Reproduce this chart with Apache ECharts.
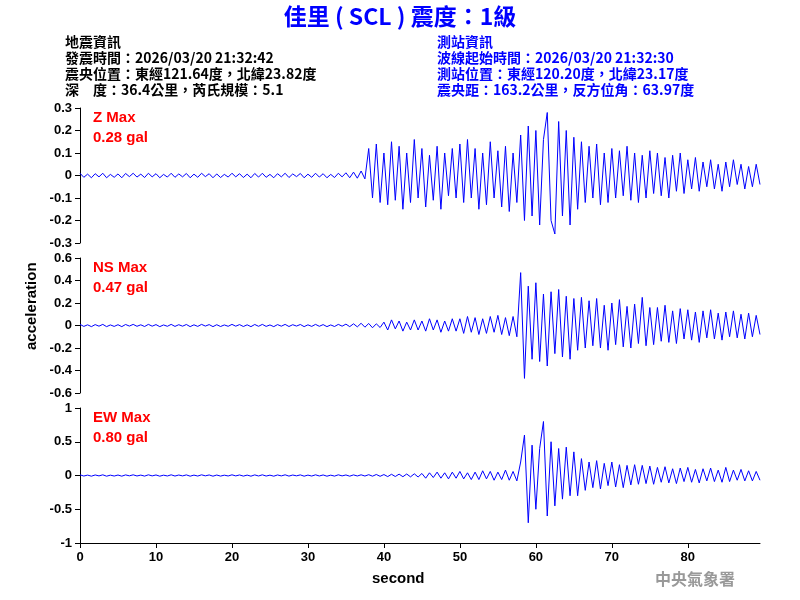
<!DOCTYPE html>
<html><head><meta charset="utf-8">
<script src="https://cdn.jsdelivr.net/npm/echarts@6/dist/echarts.min.js"></script>
<style>html,body{margin:0;padding:0;background:#fff}#c{width:800px;height:600px}</style>
</head><body><div id="c"></div>
<script>
const dt = 0.5; // sample interval in seconds
const zQuiet = [0.01,-0.008,0.006,-0.01,0.008,-0.006,0.01,-0.01,0.005,-0.008,
0.007,-0.01,0.009,-0.005,0.01,-0.007,0.006,-0.009,0.01,-0.006,
0.008,-0.01,0.005,-0.007,0.01,-0.008,0.007,-0.006,0.009,-0.01,
0.006,-0.008,0.01,-0.005,0.008,-0.01,0.007,-0.009,0.005,-0.007,
0.01,-0.006,0.008,-0.009,0.006,-0.01,0.009,-0.007,0.01,-0.008,
0.005,-0.01,0.008,-0.006,0.01,-0.009,0.007,-0.005,0.009,-0.01,
0.006,-0.008,0.01,-0.007,0.008,-0.01,0.005,-0.009,0.01,-0.006,
0.012,-0.01,0.015,-0.012,0.02,-0.015];
const zActive = [0.12,-0.1,0.14,-0.12,0.1,-0.13,0.15,-0.11,
0.13,-0.15,0.1,-0.12,0.16,-0.1,0.12,-0.14,0.09,-0.11,0.13,-0.15,0.1,-0.09,0.12,-0.1,
0.14,-0.12,0.16,-0.1,0.12,-0.15,0.1,-0.13,0.15,-0.1,0.11,-0.14,0.13,-0.16,0.1,-0.12,
0.18,-0.2,0.22,-0.18,0.2,-0.22,0.16,0.28,-0.2,-0.26,0.24,-0.18,0.2,-0.22,0.17,-0.15,
0.15,-0.12,0.13,-0.1,0.14,-0.13,0.1,-0.12,0.12,-0.1,0.11,-0.09,0.13,-0.11,0.1,-0.12,0.09,-0.1,0.11,-0.08,0.1,-0.09,0.08,-0.1,0.09,-0.07,0.1,-0.08,
0.07,-0.06,0.08,-0.07,0.06,-0.05,0.07,-0.06,0.05,-0.07,0.06,-0.05,0.07,-0.04,0.05,-0.06,0.04,-0.05,0.05,-0.04];
const nsQuiet = [0.01,-0.008,0.006,-0.01,0.008,-0.006,0.01,-0.01,0.005,-0.008,
0.007,-0.01,0.009,-0.005,0.01,-0.007,0.006,-0.009,0.01,-0.006,
0.008,-0.01,0.005,-0.007,0.01,-0.008,0.007,-0.006,0.009,-0.01,
0.006,-0.008,0.01,-0.005,0.008,-0.01,0.007,-0.009,0.005,-0.007,
0.01,-0.006,0.008,-0.009,0.006,-0.01,0.009,-0.007,0.01,-0.008,
0.005,-0.01,0.008,-0.006,0.01,-0.009,0.007,-0.005,0.009,-0.01,
0.006,-0.008,0.01,-0.007,0.008,-0.01,0.005,-0.009,0.01,-0.006,
0.012,-0.01,0.015,-0.012,0.02,-0.015,0.018,-0.02,0.015,-0.018];
const nsActive = [0.03,-0.04,0.05,-0.03,0.04,-0.05,0.03,-0.04,0.05,-0.04,0.04,-0.05,0.06,-0.04,0.05,-0.06,0.04,-0.05,0.06,-0.05,
0.06,-0.07,0.08,-0.06,0.07,-0.08,0.06,-0.07,0.08,-0.06,0.09,-0.08,0.07,-0.09,0.08,-0.1,
0.47,-0.47,0.35,-0.3,0.38,-0.32,0.28,-0.36,0.3,-0.25,0.32,-0.28,0.26,-0.3,0.24,-0.22,
0.25,-0.2,0.22,-0.18,0.24,-0.2,0.18,-0.22,0.2,-0.17,0.23,-0.19,0.17,-0.2,0.19,-0.16,0.25,-0.18,0.16,-0.17,
0.16,-0.14,0.18,-0.15,0.13,-0.16,0.15,-0.12,0.14,-0.13,0.12,-0.15,0.13,-0.11,0.14,-0.12,0.11,-0.13,0.12,-0.1,0.13,-0.11,0.1,-0.12,0.11,-0.1,0.09,-0.08];
const ewQuiet = [0.01,-0.008,0.006,-0.01,0.008,-0.006,0.01,-0.01,0.005,-0.008,
0.007,-0.01,0.009,-0.005,0.01,-0.007,0.006,-0.009,0.01,-0.006,
0.008,-0.01,0.005,-0.007,0.01,-0.008,0.007,-0.006,0.009,-0.01,
0.006,-0.008,0.01,-0.005,0.008,-0.01,0.007,-0.009,0.005,-0.007,
0.01,-0.006,0.008,-0.009,0.006,-0.01,0.009,-0.007,0.01,-0.008,
0.005,-0.01,0.008,-0.006,0.01,-0.009,0.007,-0.005,0.009,-0.01,
0.006,-0.008,0.01,-0.007,0.008,-0.01,0.005,-0.009,0.01,-0.006,
0.008,-0.01,0.009,-0.007,0.01,-0.008,0.012,-0.01,0.015,-0.012,
0.014,-0.016,0.018,-0.015,0.02,-0.018,0.022,-0.02,0.025,-0.022];
const ewActive = [0.03,-0.04,0.04,-0.03,0.05,-0.04,0.04,-0.05,0.05,-0.04,0.06,-0.05,0.04,-0.06,0.05,-0.06,0.07,-0.05,0.06,-0.07,0.05,-0.06,0.08,-0.07,0.06,-0.08,
0.2,0.6,-0.7,0.45,-0.5,0.4,0.8,-0.6,0.5,-0.45,0.4,-0.35,0.42,-0.3,0.35,-0.3,
0.25,-0.22,0.2,-0.18,0.22,-0.2,0.18,-0.15,0.2,-0.17,0.16,-0.18,0.15,-0.14,0.16,-0.13,0.15,-0.12,0.14,-0.13,
0.12,-0.1,0.13,-0.11,0.1,-0.12,0.11,-0.09,0.12,-0.1,0.09,-0.11,0.1,-0.08,0.11,-0.09,0.08,-0.1,0.12,-0.09,0.08,-0.07,0.09,-0.08,0.07,-0.08,0.06,-0.07];
const xTicks = [0,10,20,30,40,50,60,70,80];
const channels = [
  {name:'Z', label:'Z Max', peak:'0.28 gal', values: zQuiet.concat(zActive), max:0.3, interval:0.1},
  {name:'NS', label:'NS Max', peak:'0.47 gal', values: nsQuiet.concat(nsActive), max:0.6, interval:0.2},
  {name:'EW', label:'EW Max', peak:'0.80 gal', values: ewQuiet.concat(ewActive), max:1, interval:0.5}
];
const tops = [108,258,408];
const F = 'Arial, "Liberation Sans", sans-serif';
const CJK = '"Noto Sans CJK TC", sans-serif';
const lab = {color:'#000', fontFamily:F, fontWeight:'bold', fontSize:13};
const option = {
  animation:false, backgroundColor:'#fff',
  grid: tops.map(t=>({left:80,right:40,top:t,height:135})),
  xAxis: channels.map((c,i)=>({
    type:'value', gridIndex:i, min:0, max:89.5,
    show: i===2,
    axisLine:{onZero:false,lineStyle:{color:'#000'}},
    axisTick:{length:5,lineStyle:{color:'#000'},customValues:xTicks},
    splitLine:{show:false}, axisLabel:{...lab, customValues:xTicks}
  })),
  yAxis: channels.map((c,i)=>({
    type:'value', gridIndex:i, min:-c.max, max:c.max, interval:c.interval,
    axisLine:{show:true,lineStyle:{color:'#000'}}, axisTick:{show:true,length:5,lineStyle:{color:'#000'}},
    splitLine:{show:false}, axisLabel:{...lab, margin:8}
  })),
  series: channels.map((c,i)=>({
    type:'line', xAxisIndex:i, yAxisIndex:i, showSymbol:false, symbol:'none',
    lineStyle:{color:'#0000ff',width:1}, data:c.values.map((v,k)=>[k*dt,v])
  })),
  graphic: [
    {type:'text',left:'center',top:5,style:{text:'佳里 ( SCL ) 震度：1級',fill:'#0000ff',font:'bold 23px '+CJK}},
    ...['地震資訊','發震時間：2026/03/20 21:32:42','震央位置：東經121.64度，北緯23.82度','深　度：36.4公里，芮氏規模：5.1'].map((t,k)=>(
      {type:'text',left:65,top:35+k*16,style:{text:t,fill:'#000',font:'bold 14px '+CJK}})),
    ...['測站資訊','波線起始時間：2026/03/20 21:32:30','測站位置：東經120.20度，北緯23.17度','震央距：163.2公里，反方位角：63.97度'].map((t,k)=>(
      {type:'text',left:437,top:35+k*16,style:{text:t,fill:'#0000ff',font:'bold 14px '+CJK}})),
    ...channels.flatMap((c,i)=>[
      {type:'text',left:93,top:tops[i]+2,style:{text:c.label,fill:'#ff0000',font:'bold 15px '+F}},
      {type:'text',left:93,top:tops[i]+22,style:{text:c.peak,fill:'#ff0000',font:'bold 15px '+F}}]),
    {type:'text',x:24,y:350,rotation:Math.PI/2,style:{text:'acceleration',fill:'#000',font:'bold 15px '+F}},
    {type:'text',left:372,top:571,style:{text:'second',fill:'#000',font:'bold 15px '+F}},
    {type:'text',left:655,top:571,style:{text:'中央氣象署',fill:'#999',font:'bold 16px '+CJK}}
  ]
};
echarts.init(document.getElementById('c')).setOption(option);
</script></body></html>
